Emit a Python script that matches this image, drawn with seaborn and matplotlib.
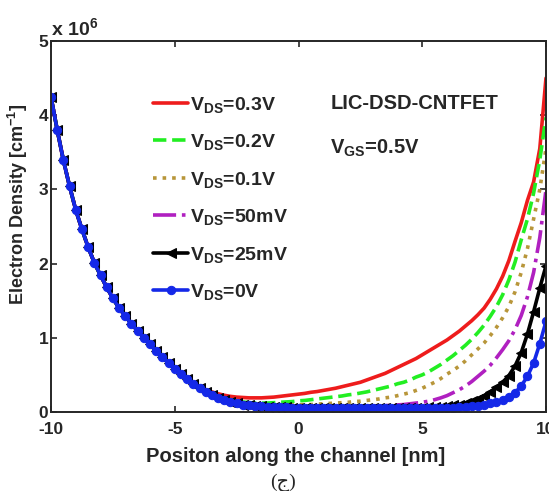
import numpy as np
import pandas as pd
import seaborn as sns
from matplotlib import pyplot as plt
from matplotlib import rcParams

sns.set_style('ticks')
rcParams['font.family'] = ['Liberation Sans', 'DejaVu Sans']
rcParams['font.weight'] = 'bold'
rcParams['axes.labelweight'] = 'bold'
rcParams['axes.unicode_minus'] = False
rcParams['mathtext.fontset'] = 'custom'
rcParams['mathtext.rm'] = 'Liberation Sans:bold'
rcParams['mathtext.bf'] = 'Liberation Sans:bold'
rcParams['mathtext.default'] = 'bf'
rcParams['xtick.direction'] = 'in'
rcParams['ytick.direction'] = 'in'
rcParams['xtick.top'] = True
rcParams['ytick.right'] = True

#%% data (electron density in units of 1e6 cm^-1), x step 0.25 nm
x_nm = np.arange(-10, 10.001, 0.25)

# all curves coincide for x in [-10, -4.25]
left_common = [4.24, 3.80, 3.39, 3.04, 2.72, 2.46, 2.22, 2.01, 1.84, 1.68, 1.53, 1.40,
               1.29, 1.19, 1.09, 1.00, 0.91, 0.82, 0.74, 0.66, 0.58, 0.51, 0.44, 0.38]

# x in [-4, 10]
red_right = [0.34, 0.30, 0.27, 0.245, 0.225, 0.21, 0.20, 0.195, 0.19, 0.19, 0.19, 0.195, 0.20,
             0.21, 0.22, 0.23, 0.24,
             0.25, 0.265, 0.275, 0.29, 0.305, 0.32, 0.34, 0.36, 0.38, 0.40, 0.43, 0.46, 0.49,
             0.52, 0.56, 0.60, 0.64, 0.68, 0.72,
             0.77, 0.82, 0.87, 0.92, 0.97, 1.03, 1.09, 1.16, 1.23, 1.31, 1.40, 1.52, 1.66,
             1.83, 2.04, 2.30, 2.55, 2.85, 3.10, 3.55, 4.50]
green_right = [0.33, 0.28, 0.24, 0.21, 0.18, 0.16, 0.145, 0.135, 0.125, 0.12, 0.12, 0.12, 0.125,
               0.13, 0.135, 0.14, 0.15,
               0.155, 0.165, 0.175, 0.185, 0.195, 0.205, 0.215, 0.23, 0.24, 0.255, 0.27, 0.29,
               0.31, 0.33, 0.35, 0.38, 0.40, 0.43, 0.47,
               0.50, 0.54, 0.59, 0.64, 0.70, 0.76, 0.83, 0.90, 0.98, 1.07, 1.17, 1.29, 1.42,
               1.58, 1.78, 2.02, 2.32, 2.60, 2.95, 3.40, 3.97]
brown_right = [0.32, 0.27, 0.23, 0.20, 0.17, 0.15, 0.135, 0.12, 0.11, 0.10, 0.095, 0.09, 0.09,
               0.09, 0.09, 0.095, 0.095,
               0.10, 0.10, 0.105, 0.11, 0.115, 0.12, 0.125, 0.13, 0.14, 0.145, 0.155, 0.165,
               0.175, 0.19, 0.20, 0.22, 0.24, 0.26, 0.29,
               0.32, 0.36, 0.40, 0.45, 0.51, 0.56, 0.62, 0.69, 0.77, 0.85, 0.93, 1.03, 1.14,
               1.27, 1.42, 1.62, 1.88, 2.20, 2.60, 3.00, 3.55]
magenta_right = [0.32, 0.27, 0.23, 0.19, 0.165, 0.145, 0.125, 0.11, 0.10, 0.09, 0.085, 0.08,
                 0.075, 0.07, 0.07, 0.065, 0.065,
                 0.065, 0.065, 0.065, 0.065, 0.065, 0.07, 0.07, 0.07, 0.07, 0.075, 0.075, 0.08,
                 0.08, 0.085, 0.09, 0.095, 0.10, 0.11, 0.12,
                 0.13, 0.145, 0.165, 0.19, 0.22, 0.26, 0.30, 0.35, 0.41, 0.48, 0.55, 0.63, 0.73,
                 0.84, 0.96, 1.11, 1.30, 1.55, 1.88, 2.35, 2.99]
black_right = [0.32, 0.27, 0.23, 0.19, 0.16, 0.14, 0.12, 0.10, 0.09, 0.08, 0.075, 0.07, 0.065,
               0.06, 0.06, 0.055, 0.055,
               0.05, 0.05, 0.05, 0.05, 0.05, 0.05, 0.05, 0.05, 0.05, 0.05, 0.05, 0.05, 0.05,
               0.05, 0.05, 0.05, 0.05, 0.05, 0.05,
               0.055, 0.06, 0.065, 0.07, 0.08, 0.09, 0.10, 0.12, 0.15, 0.18, 0.22, 0.27, 0.33,
               0.40, 0.49, 0.62, 0.80, 1.05, 1.35, 1.67, 1.97]
blue_right = [0.32, 0.27, 0.23, 0.19, 0.16, 0.14, 0.12, 0.10, 0.09, 0.08, 0.075, 0.07, 0.065,
              0.06, 0.06, 0.055, 0.055,
              0.05, 0.05, 0.05, 0.05, 0.05, 0.05, 0.05, 0.05, 0.05, 0.05, 0.05, 0.05, 0.05,
              0.05, 0.05, 0.05, 0.05, 0.05, 0.05, 0.05, 0.05, 0.05, 0.05,
              0.05, 0.055, 0.06, 0.065, 0.075, 0.085, 0.10, 0.115, 0.135, 0.16, 0.20, 0.26,
              0.35, 0.48, 0.66, 0.92, 1.22]

labels = [r'V$_{DS}$=0.3V', r'V$_{DS}$=0.2V', r'V$_{DS}$=0.1V',
          r'V$_{DS}$=50mV', r'V$_{DS}$=25mV', r'V$_{DS}$=0V']
series = [red_right, green_right, brown_right, magenta_right, black_right, blue_right]
colors = ['#ee1c1c', '#22ee22', '#b8963a', '#b020c0', 'k', '#1428e8']
styles = ['-', '--', ':', '-.', '-', '-']
markers = [None, None, None, None, '<', 'o']
msizes = [0, 0, 0, 0, 7.5, 6]

#%%
fig = plt.figure(figsize=(5.49, 4.91), dpi=100)
ax = fig.add_axes([0.093, 0.161, 0.9015, 0.7555])

for lab, right, c, ls, mk, ms in zip(labels, series, colors, styles, markers, msizes):
    y = np.array(left_common + right)
    kw = dict(color=c, linestyle=ls, linewidth=2.6)
    if mk is not None:
        kw.update(marker=mk, markersize=ms, markeredgecolor=c, markerfacecolor=c)
    sns.lineplot(x=x_nm, y=y, ax=ax, label=lab, **kw)

ax.set_xlim(-10, 10)
ax.set_ylim(0, 5)
ax.set_xticks([-10, -5, 0, 5, 10])
ax.set_yticks([0, 1, 2, 3, 4, 5])
ax.tick_params(labelsize=12.5, width=1.2, length=4)
ax.tick_params(axis='x', pad=7)
ax.tick_params(axis='y', pad=2)
for s in ax.spines.values():
    s.set_linewidth(1.4)

ax.set_xlabel('Positon along the channel [nm]', fontsize=14.5)
ax.set_ylabel(r'Electron Density [cm$^{-1}$]', fontsize=13)
ax.xaxis.set_label_coords(0.495, -0.095)
ax.yaxis.set_label_coords(-0.043, 0.56)

ax.text(0.0, 1.016, r'x 10$^{6}$', transform=ax.transAxes, fontsize=14, va='baseline')
ax.text(0.564, 0.817, 'LIC-DSD-CNTFET', transform=ax.transAxes, fontsize=14.5, va='baseline')
ax.text(0.564, 0.697, r'V$_{GS}$=0.5V', transform=ax.transAxes, fontsize=14.5, va='baseline')

leg = ax.legend(loc='upper left', bbox_to_anchor=(0.206, 0.855), frameon=False, fontsize=14,
                handlelength=1.8, handletextpad=0.1, labelspacing=0.9, borderaxespad=0,
                borderpad=0)
for t in leg.get_texts():
    t.set_fontweight('bold')

fig.text(0.516, 0.016, '(ج)', ha='center', va='center', fontsize=14,
         family=['Liberation Serif', 'DejaVu Sans'], fontweight='normal')

fig.savefig('out.png', dpi=100)
